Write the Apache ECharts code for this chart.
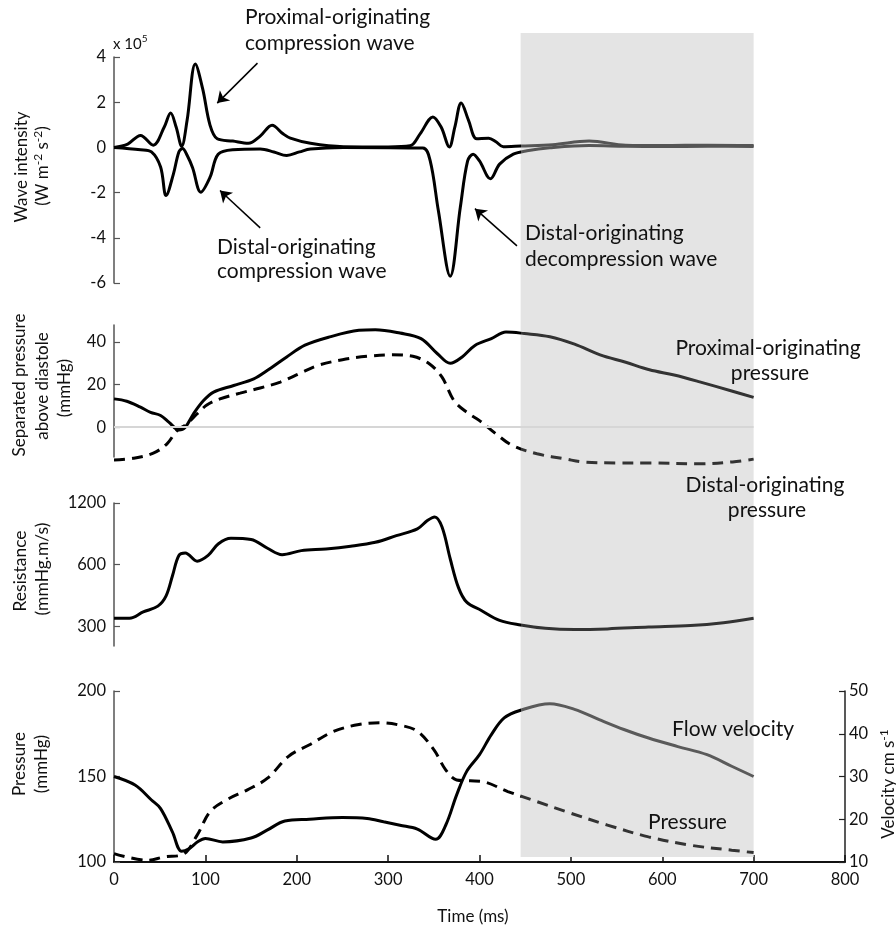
<!DOCTYPE html>
<html><head><meta charset="utf-8">
<script src="https://cdn.jsdelivr.net/npm/echarts@6/dist/echarts.min.js"></script>
<style>html,body{margin:0;padding:0;background:#fff}#c{width:896px;height:929px}</style>
</head><body><div id="c"></div>
<script>
// ---- data (time in ms) ----
const waveProximal = [[0,0],[15,0.15],[29,0.53],[43,0.1],[55,0.9],[62,1.52],[68,0.9],[74,0.05],[80,1.2],[89,3.69],[97,2.6],[105,1.0],[113,0.38],[130,0.28],[147,0.18],[160,0.5],[173,0.98],[185,0.6],[193,0.41],[215,0.18],[251,0.03],[300,0.02],[324,0.07],[335,0.6],[349,1.35],[358,0.9],[367,0.02],[373,0.9],[380,1.97],[388,1.2],[397,0.38],[410,0.41],[418,0.25],[426,0.03],[445,0.06],[480,0.12],[520,0.28],[560,0.1],[600,0.08],[650,0.1],[700,0.08]];
const waveDistal = [[0,0],[29,-0.1],[41,-0.2],[51,-0.87],[57,-2.13],[65,-1.18],[71,-0.2],[75,-0.05],[80,-0.35],[86,-0.9],[95,-1.98],[105,-1.33],[114,-0.3],[130,-0.1],[160,-0.07],[175,-0.2],[189,-0.36],[203,-0.2],[215,-0.07],[251,0],[338,-0.03],[346,-0.59],[355,-2.8],[368,-5.7],[379,-2.65],[387,-0.6],[393,-0.3],[400,-0.6],[412,-1.39],[422,-0.74],[437,-0.3],[452,-0.15],[477,-0.02],[520,0.08],[560,0.05],[600,0.04],[650,0.05],[700,0.04]];
const sepProximal = [[0,13.3],[14,12.2],[29,9.4],[40,7],[51,5.5],[60,2.4],[71,-1.3],[78,0],[87,6.3],[98,12.5],[109,16.5],[131,19.6],[153,22.7],[168,26.7],[189,33],[209,38.5],[236,42.4],[268,45.5],[286,45.8],[313,44.2],[336,41.6],[354,34.5],[368,30],[381,33],[395,38.4],[413,41.6],[429,44.7],[449,44],[477,42.5],[504,39],[532,34],[560,30.5],[586,27],[613,24.5],[641,21.3],[676,17],[700,14]];
const sepDistal = [[0,-15.4],[21,-14.6],[43,-12.2],[58,-7.8],[69,-1.6],[80,1.6],[91,6.3],[102,10.5],[116,13.3],[138,16],[160,18.4],[182,21.2],[204,25.4],[223,29],[250,31.7],[277,33.3],[304,34],[327,33.3],[345,29.8],[359,23.5],[372,12.5],[386,7],[400,3.1],[418,-3.1],[436,-8.6],[463,-12.5],[495,-15],[513,-16.3],[550,-16.8],[586,-16.8],[641,-17.2],[677,-16.3],[700,-15]];
const resistance = [[0,328],[17,328],[32,352],[48,376],[57,422],[64,529],[71,665],[78,684],[91,623],[103,665],[114,756],[128,806],[150,795],[168,721],[184,671],[205,702],[232,715],[259,737],[286,771],[309,831],[332,897],[343,985],[351,1025],[359,915],[368,639],[377,463],[386,393],[402,358],[422,320],[445,304],[472,293],[504,289],[540,291],[585,297],[631,302],[667,312],[700,328]];
const velocity = [[0,30],[23,28],[41,24.5],[51,22.5],[64,17],[74,12.5],[82,13.1],[92,14.8],[100,15.5],[119,14.7],[150,15.6],[168,17.5],[187,19.6],[214,20],[250,20.4],[277,20.2],[295,19.4],[313,18.6],[332,17.7],[352,15.3],[363,18.6],[375,25.7],[386,31.2],[400,35.1],[413,39.8],[427,43.7],[445,45.5],[477,47],[504,45.7],[531,43.3],[558,41],[585,39],[617,37],[649,35.1],[676,32.4],[700,30]];
const pressure = [[0,104.9],[37,101],[55,103],[75,104.3],[91,115.7],[105,129.4],[123,136.3],[146,142.2],[168,149],[191,161.8],[214,168.6],[241,176.5],[268,180.4],[291,181.4],[313,180],[332,176.5],[350,165.7],[363,153.9],[375,148],[390,147.5],[404,147],[431,141.2],[463,135.3],[495,129.4],[540,121.6],[585,114.7],[631,109.8],[676,106.9],[700,105.5]];
const sepTicks = [0,20,40];
const resTicks = [300,600,1200];
const shadeRange = [445,700];
const arrows = [[[157,3.73],[113,1.96]],[[160,-3.56],[116,-1.91]],[[441,-4.36],[395,-2.71]]];

const FONT = 'Lato';
const TXT = '#111';
const TICK = 16.5;
const chart = echarts.init(document.getElementById('c'), null, {renderer:'canvas'});
const L = 114, R = 51;
const grids = [
  {left:L,right:R,top:57,height:226},
  {left:L,right:R,top:325,height:132},
  {left:L,right:R,top:503,height:143},
  {left:L,right:R,top:691,height:171},
  {left:L,right:R,top:33,height:824}
];
const xAxes = grids.map((g,i)=>({
  type:'value', gridIndex:i, min:0, max:800, interval:100, show:i===3,
  axisLine:{show:true,onZero:false,lineStyle:{color:'#111',width:2}},
  axisTick:{show:true,inside:true,length:7,lineStyle:{color:'#111',width:1.5}},
  axisLabel:{fontSize:TICK,color:TXT,fontFamily:FONT,margin:9},
  splitLine:{show:false}
}));
const lab = (extra)=>Object.assign({fontSize:TICK,color:TXT,fontFamily:FONT,margin:8,formatter:v=>String(v)},extra||{});
const tk = (extra)=>Object.assign({show:true,inside:true,length:6,lineStyle:{color:'#555',width:1.2}},extra||{});
const yBase = (o)=>Object.assign({
  type:'value',
  axisLine:{show:true,onZero:false,lineStyle:{color:'#555',width:1.5}},
  axisTick:tk(),
  axisLabel:lab(),
  splitLine:{show:false}
}, o);
const yAxes = [
  yBase({gridIndex:0,min:-6,max:4,interval:2}),
  yBase({gridIndex:1,min:-14,max:48,axisLabel:lab({customValues:sepTicks}),axisTick:tk({customValues:sepTicks})}),
  yBase({gridIndex:2,type:'log',logBase:10,min:240,max:1200,axisLabel:lab({customValues:resTicks}),axisTick:tk({customValues:resTicks})}),
  yBase({gridIndex:3,min:100,max:200,interval:50}),
  yBase({gridIndex:3,position:'right',min:10,max:50,interval:10,
    axisLine:{show:true,onZero:false,lineStyle:{color:'#222',width:1.5}},
    axisTick:{show:true,inside:true,length:6,lineStyle:{color:'#222',width:1.2}},
    axisLabel:lab({margin:4})}),
  {type:'value',gridIndex:4,min:0,max:1,show:false}
];
const lineS = (data,xi,yi,dash,extra)=>Object.assign({
  type:'line', data:data, xAxisIndex:xi, yAxisIndex:yi, smooth:0.35, showSymbol:false, symbol:'none',
  clip:false, z:3, silent:true,
  lineStyle:{width:3,color:'#000',type:dash?[11,7]:'solid',cap:'butt'}
}, extra||{});
const series = [
  lineS(waveProximal,0,0,false,{markLine:{silent:true,symbol:['none','arrow'],symbolSize:11,animation:false,
    label:{show:false},lineStyle:{color:'#000',width:1.5,type:'solid'},
    data:arrows.map(a=>[{coord:a[0]},{coord:a[1]}])}}),
  lineS(waveDistal,0,0,false),
  lineS(sepProximal,1,1,false,{markLine:{silent:true,symbol:['none','none'],animation:false,label:{show:false},
    lineStyle:{color:'#d6d6d6',width:2,type:'solid'},data:[[{coord:[0,0]},{coord:[shadeRange[1],0]}]]}}),
  lineS(sepDistal,1,1,true),
  lineS(resistance,2,2,false),
  lineS(velocity,3,4,false),
  lineS(pressure,3,3,true),
  {type:'line',xAxisIndex:4,yAxisIndex:5,data:[],z:1,silent:true,
    markArea:{silent:true,itemStyle:{color:'#e4e4e4'},data:[[{xAxis:shadeRange[0]},{xAxis:shadeRange[1]}]]}}
];
const grays = ['#555','#555','#333','#333','#333','#5a5a5a','#333'];

function txt(x,y,text,size,align,rot){
  return {type:'text',x:x,y:y,rotation:rot||0,silent:true,z:10,
    style:{text:text,fontSize:size,fontFamily:FONT,fill:TXT,align:align||'left',textAlign:align||'left',
      verticalAlign:'middle',textVerticalAlign:'middle',lineHeight:Math.round(size*1.3),
      rich:{sup:{fontSize:Math.round(size*0.68),fontFamily:FONT,fill:TXT,verticalAlign:'top',lineHeight:Math.round(size*0.68)}}}};
}
const V = Math.PI/2;
const AN = 21;
const graphic = [
  txt(113,44,'x 10{sup|5}',15,'left'),
  txt(22,167,'Wave intensity',17,'center',V),
  txt(43,166,'(W m{sup|-2} s{sup|-2})',17,'center',V),
  txt(20,385,'Separated pressure',17,'center',V),
  txt(43,386,'above diastole',17,'center',V),
  txt(65,388,'(mmHg)',17,'center',V),
  txt(20,571,'Resistance',17.5,'center',V),
  txt(42,569,'(mmHg.m/s)',17.5,'center',V),
  txt(20,764,'Pressure',17,'center',V),
  txt(42,764,'(mmHg)',17,'center',V),
  txt(889,784,'Velocity cm s{sup|-1}',17,'center',V),
  txt(473,917,'Time (ms)',17,'center'),
  txt(245,17,'Proximal-originating',AN),
  txt(245,43,'compression wave',AN),
  txt(217,247,'Distal-originating',AN),
  txt(217,271,'compression wave',AN),
  txt(525,233,'Distal-originating',AN),
  txt(525,259,'decompression wave',AN),
  txt(768,348,'Proximal-originating',AN,'center'),
  txt(770,373,'pressure',AN,'center'),
  txt(765,485,'Distal-originating',AN,'center'),
  txt(767,510,'pressure',AN,'center'),
  txt(672,729,'Flow velocity',AN),
  txt(648,822,'Pressure',AN)
];

chart.setOption({
  animation:false,
  backgroundColor:'#fff',
  textStyle:{fontFamily:FONT},
  grid:grids, xAxis:xAxes, yAxis:yAxes, series:series, graphic:graphic
});
// colour each curve black before the shaded window and grey inside it (boundary from the x scale)
const W = chart.getWidth();
const px = chart.convertToPixel({xAxisIndex:0}, shadeRange[0]);
const p = Math.min(1, Math.max(0, px / W));
chart.setOption({series: grays.map(g=>({lineStyle:{color:new echarts.graphic.LinearGradient(0,0,W,0,
  [{offset:0,color:'#000'},{offset:p,color:'#000'},{offset:p,color:g},{offset:1,color:g}],true)}}))});
</script></body></html>
